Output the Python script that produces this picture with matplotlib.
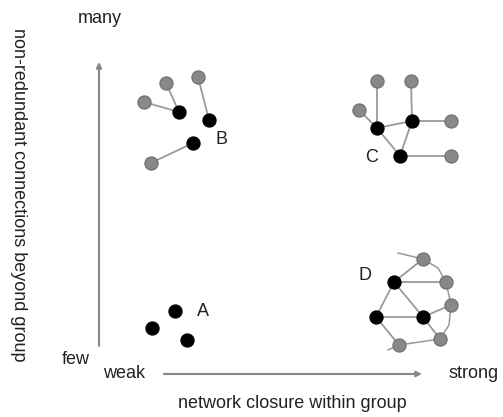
import numpy as np
from matplotlib import pyplot as plt

plt.rcParams['font.family'] = ['Liberation Sans', 'DejaVu Sans']

# node positions (pixel-ish layout units, y grows downward)
a_black = [(175, 311), (152, 328), (187, 340)]

b_gray = [(166, 83), (198, 77), (144, 102), (151, 163)]
b_black = [(179, 112), (209, 120), (193, 143)]
b_edges = [(0, 0), (2, 0), (1, 1), (3, 2)]  # (gray, black)

c_gray = [(377, 81), (411, 81), (359, 110), (451, 121), (451, 156)]
c_black = [(377, 128), (412, 121), (400, 156)]
c_edges_gb = [(0, 0), (2, 0), (1, 1), (3, 1), (4, 2)]
c_edges_bb = [(0, 1), (0, 2), (1, 2)]

d_gray = [(423, 259), (446, 282), (451, 305), (440, 339), (399, 345)]
d_black = [(394, 282), (376, 317), (423, 317)]
d_edges_gb = [(0, 0), (1, 0), (2, 2), (3, 2), (4, 1)]
d_edges_bb = [(0, 1), (0, 2), (1, 2)]
d_rim = [(398, 253), (423, 259), (438, 268), (446, 282), (451, 305),
         (449, 325), (440, 339), (399, 345), (388, 350)]

labels = {'A': (203, 311), 'B': (222, 139), 'C': (372, 157), 'D': (365, 275)}

LINE = '#9a9a9a'
GRAY = '#888888'
GRAY_EDGE = '#6e6e6e'


def draw_edge(ax, p, q):
    ax.plot([p[0], q[0]], [p[1], q[1]], color=LINE, lw=1.3, zorder=1)


def draw_nodes(ax, pts, kind):
    xs = [p[0] for p in pts]
    ys = [p[1] for p in pts]
    if kind == 'black':
        ax.plot(xs, ys, 'o', color='black', ms=9.3, zorder=3)
    else:
        ax.plot(xs, ys, 'o', color=GRAY, mec=GRAY_EDGE, mew=0.8, ms=9.5, zorder=3)


fig = plt.figure(figsize=(5.03, 4.17), dpi=100)
ax = fig.add_axes([0, 0, 1, 1])
ax.set_xlim(0, 503)
ax.set_ylim(417, 0)
ax.axis('off')

# axes arrows
ax.annotate('', xy=(99, 62), xytext=(99, 346),
            arrowprops=dict(arrowstyle='-|>', color='#888888', lw=1.5,
                            mutation_scale=8, shrinkA=0, shrinkB=0))
ax.annotate('', xy=(422, 374), xytext=(164, 374),
            arrowprops=dict(arrowstyle='-|>', color='#888888', lw=1.5,
                            mutation_scale=8, shrinkA=0, shrinkB=0))

txt = dict(color='#222222', fontsize=13)
ax.text(100, 18, 'many', ha='center', va='center', **txt)
ax.text(76, 360, 'few', ha='center', va='center', **txt)
ax.text(124, 373, 'weak', ha='center', va='center', **txt)
ax.text(474, 373, 'strong', ha='center', va='center', **txt)
ax.text(292, 404, 'network closure within group', ha='center', va='center', **txt)
ax.text(18, 195, 'non-redundant connections beyond group', ha='center',
        va='center', rotation=-90, **txt)

# group B
for g, b in b_edges:
    draw_edge(ax, b_gray[g], b_black[b])
# group C
for g, b in c_edges_gb:
    draw_edge(ax, c_gray[g], c_black[b])
for i, j in c_edges_bb:
    draw_edge(ax, c_black[i], c_black[j])
# group D
for g, b in d_edges_gb:
    draw_edge(ax, d_gray[g], d_black[b])
for i, j in d_edges_bb:
    draw_edge(ax, d_black[i], d_black[j])
rim = np.array(d_rim)
ax.plot(rim[:, 0], rim[:, 1], color=LINE, lw=1.1, zorder=1)

draw_nodes(ax, a_black, 'black')
draw_nodes(ax, b_gray, 'gray')
draw_nodes(ax, b_black, 'black')
draw_nodes(ax, c_gray, 'gray')
draw_nodes(ax, c_black, 'black')
draw_nodes(ax, d_gray, 'gray')
draw_nodes(ax, d_black, 'black')

for name, (x, y) in labels.items():
    ax.text(x, y, name, ha='center', va='center', **txt)

fig.savefig('out.png', dpi=100)
